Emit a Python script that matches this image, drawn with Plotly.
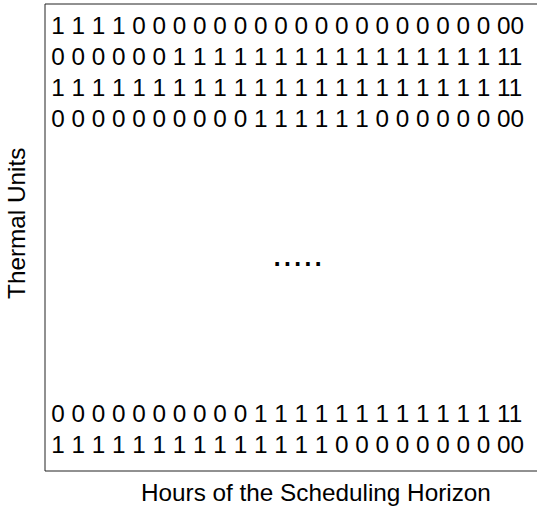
import plotly.graph_objects as go

# ---- data -------------------------------------------------------------
hours = list(range(1, 25))
unit_labels = ["Unit 1", "Unit 2", "Unit 3", "Unit 4", "Unit N-1", "Unit N"]

unit_1 = [1, 1, 1, 1, 0, 0, 0, 0, 0, 0, 0, 0, 0, 0, 0, 0, 0, 0, 0, 0, 0, 0, 0, 0]
unit_2 = [0, 0, 0, 0, 0, 0, 1, 1, 1, 1, 1, 1, 1, 1, 1, 1, 1, 1, 1, 1, 1, 1, 1, 1]
unit_3 = [1, 1, 1, 1, 1, 1, 1, 1, 1, 1, 1, 1, 1, 1, 1, 1, 1, 1, 1, 1, 1, 1, 1, 1]
unit_4 = [0, 0, 0, 0, 0, 0, 0, 0, 0, 0, 1, 1, 1, 1, 1, 1, 0, 0, 0, 0, 0, 0, 0, 0]
unit_n1 = [0, 0, 0, 0, 0, 0, 0, 0, 0, 0, 1, 1, 1, 1, 1, 1, 1, 1, 1, 1, 1, 1, 1, 1]
unit_n = [1, 1, 1, 1, 1, 1, 1, 1, 1, 1, 1, 1, 1, 1, 0, 0, 0, 0, 0, 0, 0, 0, 0, 0]

schedule = [unit_1, unit_2, unit_3, unit_4, unit_n1, unit_n]

x_title = "Hours of the Scheduling Horizon"
y_title = "Thermal Units"
ellipsis = "....."

# ---- drawing ----------------------------------------------------------
def row_string(bits):
    s = [str(b) for b in bits]
    return " ".join(s[:-2]) + " " + s[-2] + s[-1]

top_rows = 4
top_offset = 0.08
gap = 8.6
slots = [i + top_offset if i < top_rows else i + gap for i in range(len(schedule))]

FONT = "Liberation Sans, Arial, Helvetica, sans-serif"
LINE = dict(color="#222222", width=1)

fig = go.Figure()
fig.add_trace(go.Scatter(
    x=[hours[0]] * len(schedule),
    y=slots,
    text=[row_string(r) for r in schedule],
    customdata=unit_labels,
    mode="text",
    textposition="middle right",
    textfont=dict(family=FONT, size=24.3, color="black"),
    cliponaxis=False,
    hoverinfo="skip",
    showlegend=False,
))

fig.add_annotation(text=ellipsis, xref="paper", yref="paper",
                   x=0.502, y=0.465, xanchor="center", yanchor="middle",
                   showarrow=False, font=dict(family=FONT, size=37, color="black"))
fig.add_annotation(text=x_title, xref="paper", yref="paper",
                   x=0.540, y=-0.047, xanchor="center", yanchor="middle",
                   showarrow=False, font=dict(family=FONT, size=24.3, color="black"))
fig.add_annotation(text=y_title, xref="paper", yref="paper",
                   x=-0.058, y=0.531, xanchor="center", yanchor="middle",
                   textangle=-90,
                   showarrow=False, font=dict(family=FONT, size=24.3, color="black"))

# open-right frame (left, top, bottom edges)
fig.add_shape(type="line", xref="paper", yref="paper", x0=0, x1=0, y0=0, y1=1, line=LINE)
fig.add_shape(type="line", xref="paper", yref="paper", x0=0, x1=1, y0=1, y1=1, line=LINE)
fig.add_shape(type="line", xref="paper", yref="paper", x0=0, x1=1, y0=0, y1=0, line=LINE)

fig.update_xaxes(range=[0.7, 24.7], visible=False)
fig.update_yaxes(range=[14.39, -0.68], visible=False)

fig.update_layout(width=547, height=518, autosize=False,
                  margin=dict(l=45, r=0, t=4, b=47),
                  paper_bgcolor="white", plot_bgcolor="white")

fig.write_html(
    "out.html",
    config={"displayModeBar": False, "responsive": False},
    post_script=("document.body.style.margin='0';"
                 "document.body.style.overflow='hidden';"
                 "document.documentElement.style.overflow='hidden';"),
)
